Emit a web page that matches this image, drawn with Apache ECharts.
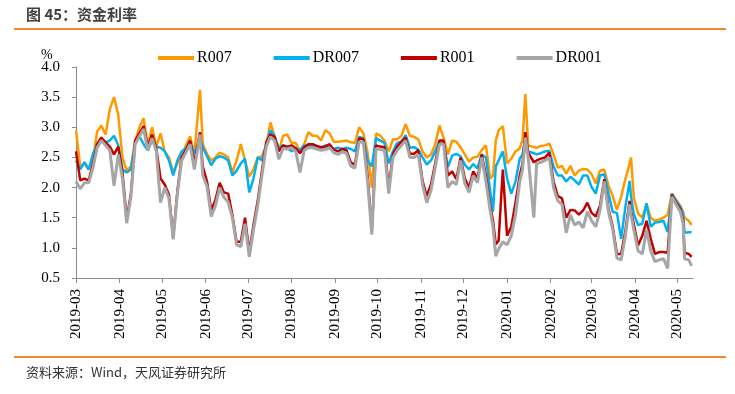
<!DOCTYPE html>
<html><head><meta charset="utf-8">
<script src="https://cdn.jsdelivr.net/npm/echarts@6/dist/echarts.min.js"></script>
<style>html,body{margin:0;padding:0;background:#fff}#c{width:735px;height:394px}</style>
</head><body><div id="c"></div>
<script>
const dates = [
'2019-03-01','2019-03-04','2019-03-07','2019-03-10','2019-03-13','2019-03-16','2019-03-19','2019-03-22','2019-03-25','2019-03-28',
'2019-03-31','2019-04-03','2019-04-06','2019-04-09','2019-04-12','2019-04-15','2019-04-18','2019-04-21','2019-04-24','2019-04-27',
'2019-04-30','2019-05-03','2019-05-06','2019-05-09','2019-05-12','2019-05-15','2019-05-18','2019-05-21','2019-05-24','2019-05-28',
'2019-05-30','2019-06-02','2019-06-05','2019-06-08','2019-06-11','2019-06-14','2019-06-17','2019-06-20','2019-06-23','2019-06-26',
'2019-06-29','2019-07-02','2019-07-05','2019-07-08','2019-07-11','2019-07-14','2019-07-17','2019-07-20','2019-07-23','2019-07-26',
'2019-07-29','2019-08-01','2019-08-04','2019-08-07','2019-08-10','2019-08-13','2019-08-16','2019-08-19','2019-08-22','2019-08-25',
'2019-08-28','2019-08-31','2019-09-03','2019-09-06','2019-09-09','2019-09-12','2019-09-15','2019-09-18','2019-09-21','2019-09-24',
'2019-09-27','2019-09-30','2019-10-03','2019-10-06','2019-10-09','2019-10-12','2019-10-15','2019-10-18','2019-10-21','2019-10-24',
'2019-10-27','2019-10-30','2019-11-02','2019-11-05','2019-11-08','2019-11-11','2019-11-14','2019-11-17','2019-11-20','2019-11-23',
'2019-11-26','2019-11-29','2019-12-02','2019-12-05','2019-12-08','2019-12-11','2019-12-14','2019-12-17','2019-12-20','2019-12-22',
'2019-12-24','2019-12-26','2019-12-29','2020-01-01','2020-01-04','2020-01-07','2020-01-10','2020-01-12','2020-01-14','2020-01-16',
'2020-01-20','2020-01-22','2020-01-25','2020-01-28','2020-01-31','2020-02-03','2020-02-06','2020-02-09','2020-02-12','2020-02-15',
'2020-02-18','2020-02-21','2020-02-24','2020-02-27','2020-03-01','2020-03-04','2020-03-07','2020-03-10','2020-03-13','2020-03-16',
'2020-03-19','2020-03-22','2020-03-25','2020-03-28','2020-03-29','2020-03-31','2020-04-03','2020-04-06','2020-04-09','2020-04-12',
'2020-04-15','2020-04-18','2020-04-21','2020-04-24','2020-04-27','2020-04-30','2020-05-03','2020-05-05','2020-05-06','2020-05-09',
'2020-05-11'];
const r007 = [
2.95,2.35,2.40,2.30,2.45,2.93,3.03,2.88,3.30,3.50,
3.20,2.50,2.28,2.35,2.78,3.00,3.15,2.70,3.00,2.68,
2.90,2.60,2.50,2.25,2.40,2.50,2.70,2.85,2.55,3.62,
2.72,2.56,2.45,2.50,2.58,2.55,2.50,2.25,2.45,2.72,
2.45,2.18,2.30,2.50,2.52,2.70,3.08,2.85,2.60,2.86,
2.88,2.74,2.74,2.60,2.72,2.92,2.86,2.86,2.78,2.95,
2.90,2.76,2.76,2.77,2.78,2.75,2.74,3.00,2.90,2.58,
2.00,2.90,2.86,2.78,2.60,2.80,2.80,2.86,3.05,2.86,
2.84,2.80,2.60,2.50,2.55,2.72,3.03,2.82,2.55,2.78,
2.76,2.67,2.55,2.43,2.50,2.51,2.62,2.70,2.15,2.20,
2.78,2.95,3.02,2.40,2.48,2.60,2.65,2.80,3.55,2.70,
2.67,2.66,2.69,2.70,2.73,2.55,2.33,2.36,2.23,2.36,
2.20,2.28,2.31,2.30,2.22,2.07,2.28,2.30,2.03,1.86,
1.63,1.85,2.14,2.40,2.50,1.83,1.57,1.50,1.72,1.50,
1.45,1.47,1.50,1.55,1.90,1.80,1.70,1.60,1.50,1.45,
1.38];
const dr007 = [
2.45,2.30,2.42,2.30,2.55,2.72,2.80,2.75,2.78,2.86,
2.70,2.30,2.25,2.30,2.75,2.85,2.72,2.62,2.78,2.68,
2.66,2.60,2.45,2.20,2.45,2.60,2.65,2.76,2.55,2.82,
2.67,2.52,2.37,2.48,2.52,2.50,2.45,2.20,2.28,2.40,
2.48,1.92,2.15,2.50,2.45,2.70,2.95,2.85,2.65,2.70,
2.66,2.60,2.65,2.62,2.70,2.69,2.69,2.67,2.65,2.70,
2.67,2.64,2.66,2.64,2.66,2.64,2.60,2.84,2.82,2.45,
2.35,2.82,2.78,2.74,2.40,2.60,2.74,2.76,2.87,2.66,
2.67,2.63,2.50,2.38,2.45,2.60,2.77,2.75,2.34,2.53,
2.56,2.52,2.38,2.30,2.39,2.32,2.55,2.50,1.95,1.60,
2.35,2.45,2.60,2.15,1.90,2.10,2.48,2.55,2.82,2.60,
2.57,2.55,2.57,2.60,2.61,2.35,2.20,2.20,2.10,2.18,
2.12,2.05,2.20,2.20,2.01,1.90,2.20,2.22,1.90,1.60,
1.58,1.15,1.68,2.11,1.85,1.56,1.38,1.40,1.74,1.35,
1.42,1.43,1.45,1.26,1.90,1.78,1.68,1.55,1.25,1.26,
1.26];
const r001 = [
2.60,2.12,2.15,2.12,2.38,2.72,2.83,2.75,2.68,2.55,
2.68,2.25,1.48,1.90,2.78,2.90,3.02,2.68,2.88,2.65,
2.15,2.05,1.88,1.17,1.95,2.50,2.62,2.78,2.40,2.92,
2.35,2.10,1.62,1.80,2.08,1.92,1.90,1.55,1.10,1.10,
1.50,0.93,1.38,1.78,2.28,2.75,2.88,2.84,2.60,2.70,
2.68,2.70,2.65,2.57,2.67,2.72,2.72,2.69,2.67,2.68,
2.72,2.63,2.60,2.64,2.62,2.42,2.38,2.82,2.80,2.20,
1.28,2.70,2.68,2.67,2.00,2.55,2.68,2.76,2.83,2.56,
2.56,2.62,2.11,1.86,2.05,2.40,2.78,2.78,2.20,2.27,
2.14,2.50,2.15,2.00,2.27,2.15,2.55,2.20,1.70,1.45,
1.06,1.12,2.30,1.20,1.35,1.75,2.20,2.40,2.92,2.58,
2.42,2.45,2.48,2.50,2.58,2.10,1.86,1.82,1.50,1.63,
1.62,1.55,1.62,1.75,1.58,1.52,1.70,2.14,1.65,1.35,
0.90,0.90,1.28,1.78,1.60,1.39,1.04,1.20,1.45,1.15,
0.90,0.93,0.93,0.92,1.88,1.75,1.64,1.45,0.92,0.90,
0.85];
const dr001 = [
2.10,1.98,2.08,2.08,2.32,2.66,2.78,2.70,2.62,2.03,
2.55,2.15,1.41,1.85,2.72,2.85,2.97,2.62,2.82,2.60,
1.75,2.00,1.82,1.14,1.90,2.45,2.58,2.72,2.30,2.88,
2.20,2.02,1.52,1.70,2.00,1.84,1.76,1.50,1.05,1.02,
1.40,0.85,1.30,1.70,2.20,2.68,2.84,2.78,2.47,2.65,
2.64,2.66,2.60,2.25,2.62,2.66,2.66,2.64,2.62,2.63,
2.66,2.58,2.55,2.59,2.57,2.36,2.32,2.76,2.75,2.10,
1.22,2.65,2.63,2.62,1.90,2.50,2.62,2.70,2.78,2.50,
2.50,2.55,2.05,1.75,1.95,2.33,2.72,2.72,2.00,2.10,
2.05,2.45,2.07,1.92,2.20,2.08,2.50,2.10,1.62,1.35,
0.86,0.98,1.10,1.05,1.20,1.55,2.10,2.30,2.83,2.50,
1.50,2.40,2.42,2.45,2.50,2.00,1.78,1.72,1.25,1.55,
1.38,1.43,1.33,1.60,1.45,1.35,1.62,2.10,1.60,1.30,
0.83,0.80,1.20,1.72,1.55,1.30,0.95,0.90,1.30,0.95,
0.77,0.80,0.82,0.66,1.85,1.72,1.60,1.40,0.82,0.80,
0.70];
const seriesNames = ['R007','DR007','R001','DR001'];
const seriesColors = ['#FF9900','#00B0F0','#C00000','#A6A6A6'];
const yMin = 0.5, yMax = 4.0, yStep = 0.5;
const axisFirstDay = [2019, 2, 1], axisLastDay = [2020, 4, 12];

const cats = [];
for (let t = Date.UTC(...axisFirstDay); t <= Date.UTC(...axisLastDay); t += 86400000) {
  cats.push(new Date(t).toISOString().slice(0, 10));
}
const monthStart = (i, v) => v.slice(8) === '01';
const serif = 'Liberation Serif';
const valuesList = [r007, dr007, r001, dr001];

const chart = echarts.init(document.getElementById('c'), null, {renderer: 'canvas'});
chart.setOption({
  animation: false,
  backgroundColor: '#fff',
  grid: {left: 76, right: 42, top: 67, bottom: 116, containLabel: false},
  legend: {
    top: 45, left: 153, itemGap: 42, itemWidth: 36, itemHeight: 4,
    icon: 'rect',
    textStyle: {fontFamily: serif, fontSize: 16, color: '#000', padding: [0, 0, 0, -2]},
    data: seriesNames
  },
  xAxis: {
    type: 'category', data: cats, boundaryGap: false,
    axisLine: {lineStyle: {color: '#8c8c8c', width: 1}},
    axisTick: {interval: monthStart, length: 5, inside: false, lineStyle: {color: '#8c8c8c'}},
    axisLabel: {interval: monthStart, rotate: 90, margin: 11, fontFamily: serif, fontSize: 15, color: '#000',
      formatter: v => v.slice(0, 7)},
    splitLine: {show: false}
  },
  yAxis: {
    type: 'value', min: yMin, max: yMax, interval: yStep,
    axisLine: {show: true, lineStyle: {color: '#8c8c8c', width: 1}},
    axisTick: {show: true, length: 4, lineStyle: {color: '#8c8c8c'}},
    axisLabel: {margin: 16, fontFamily: serif, fontSize: 15, color: '#000', formatter: v => v.toFixed(1)},
    splitLine: {show: false}
  },
  graphic: [
    {type: 'text', left: 26, top: 7, style: {text: '图 45：资金利率', font: 'bold 15px "Noto Sans CJK SC"', fill: '#404040'}},
    {type: 'rect', shape: {x: 14, y: 28, width: 712, height: 2}, style: {fill: '#F08A2C'}},
    {type: 'text', left: 41, top: 48, style: {text: '%', font: '14px "Liberation Serif"', fill: '#000'}},
    {type: 'rect', shape: {x: 14, y: 356, width: 712, height: 2}, style: {fill: '#F08A2C'}},
    {type: 'text', left: 26, top: 366, style: {text: '资料来源：Wind，天风证券研究所', font: '13px "Noto Sans CJK SC"', fill: '#333'}}
  ],
  series: seriesNames.map((n, k) => ({
    name: n, type: 'line', showSymbol: false, symbol: 'none',
    color: seriesColors[k],
    lineStyle: {width: k === 3 ? 3 : 2.5, color: seriesColors[k]},
    data: dates.map((d, i) => [d, valuesList[k][i]])
  }))
});
</script>
</body></html>
